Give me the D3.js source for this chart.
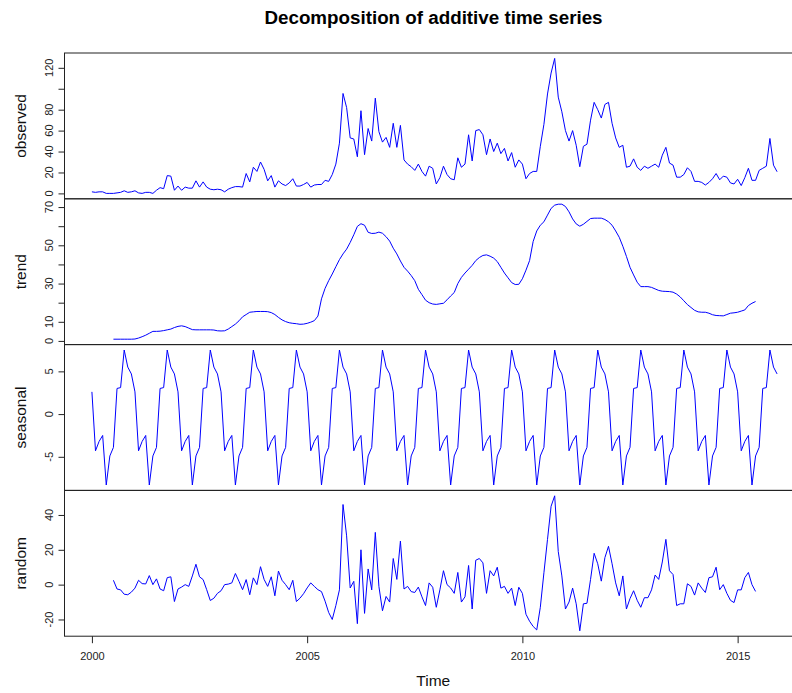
<!DOCTYPE html>
<html>
<head>
<meta charset="utf-8">
<script src="https://cdn.jsdelivr.net/npm/d3@7"></script>
<style>
  body { margin: 0; background: #fff; }
  svg { display: block; font-family: Arial, "Liberation Sans", "DejaVu Sans", sans-serif; }
</style>
</head>
<body>
<svg id="chart" width="792" height="693"></svg>
<script>
// Monthly series, January 2000 to December 2015
const startYear = 2000;
const frequency = 12;

const observed = [
  1.5, 1, 1.5, 1.5, 0, 0, 0, 0.5, 1, 2.5, 1, 1.5,
  2.5, 0.5, 0, 1, 1, 0, 3, 5.5, 4.5, 17, 16.5, 3,
  7, 3, 6, 5, 5, 12, 6, 11, 6, 4, 3.5, 4,
  3.5, 1.5, 4, 5.5, 6.5, 6.5, 6, 19, 11, 25, 21, 30,
  23, 12, 17, 6, 12, 9, 7.5, 10, 14, 7, 7, 8.5,
  10.5, 6, 8, 8.5, 8.5, 12.5, 11.5, 18, 28, 48, 95.5, 82,
  53, 52, 35, 79, 37, 62, 50, 91, 59, 49, 53.5, 44,
  67, 44, 65, 32, 28, 25.5, 22, 28, 21, 16.5, 26, 24,
  9, 15, 26, 18, 14, 13, 34, 25, 28, 56, 31, 60,
  61, 56, 37, 52, 40, 48, 38, 43, 31, 39, 25, 32,
  28, 14, 19, 21, 21, 45, 66, 95, 115, 129, 92, 78,
  60, 50, 60, 46, 25.5, 45, 47, 70, 87, 80, 72, 85,
  87, 67, 53, 44, 46, 25, 26, 33, 25, 22, 26, 24,
  26, 28, 25, 36.5, 44, 29, 27, 15.5, 15.5, 18, 24.5, 21,
  11.5, 11.5, 10.5, 8, 10.5, 14, 19, 13, 16.5, 15.5, 10, 9,
  13.5, 7.5, 15, 24, 12.5, 12.5, 22, 24, 26, 52.5, 27, 20.7
];

// Centred 12-month trend: defined from July 2000 to June 2015
const trendStart = 6;
const trend = [
  0.9, 0.9, 0.9, 0.9, 0.9, 0.9,
  1.0, 1.5, 2.2, 3.0, 4.0, 5.0, 5.0, 5.1, 5.4, 5.8, 6.2, 7.0,
  7.6, 7.9, 7.5, 6.7, 5.9, 5.8, 5.8, 5.8, 5.8, 5.8, 5.7, 5.3,
  5.2, 5.3, 6.2, 7.5, 8.8, 10.5, 12.6, 13.8, 15.0, 15.2, 15.4, 15.4,
  15.4, 15.3, 14.8, 13.8, 12.3, 11.0, 10.1, 9.5, 9.2, 9.0, 8.7, 8.8,
  9.2, 9.8, 10.6, 13.0, 22.0, 27.5, 31.5, 35.0, 38.8, 42.5, 45.5, 48.0,
  51.5, 55.5, 59.9, 61.3, 60.5, 56.8, 56.2, 56.3, 56.9, 56.3, 54.5, 52.2,
  48.5, 45.5, 41.8, 38.5, 36.5, 34.2, 31.5, 27.0, 24.2, 21.3, 20.0, 19.3,
  19.1, 19.4, 19.7, 21.5, 23.5, 25.3, 30.0, 33.2, 35.5, 37.5, 39.5, 42.0,
  43.6, 44.7, 45.0, 44.3, 43.3, 41.5, 38.5, 35.5, 33.0, 30.5, 29.5, 29.6,
  32.5, 37.0, 42.0, 52.0, 57.5, 60.5, 62.3, 65.8, 69.3, 71.0, 71.5, 71.5,
  70.3, 67.5, 63.8, 61.2, 60.0, 61.0, 62.5, 64.0, 64.2, 64.2, 64.2, 63.5,
  62.3, 60.5, 57.5, 54.2, 49.5, 44.2, 38.5, 34.5, 30.7, 28.4, 28.4, 28.4,
  28.0, 27.2, 26.4, 26.0, 25.9, 25.8, 25.5, 24.5, 23.0, 21.0, 19.0, 17.5,
  16.0, 15.2, 15.0, 15.0, 14.5, 13.7, 13.3, 13.2, 13.1, 13.8, 14.5, 14.7,
  15.0, 15.6, 16.2, 18.5, 19.7, 20.6
];

// Seasonal figure, January to December (repeats every year)
const seasonalFigure = [2.6, -4.3, -3.2, -2.5, -8.3, -4.9, -3.9, 3.0, 3.1, 7.5, 5.5, 4.7];

// Remainder: same months as the trend
const random = [
  2.5, -2.5, -3, -5.5, -5.8, -4.3,
  -2, 2.5, 0.6, 0.4, 5.2, 0, 3.3, -2.5, -3.5, 4, 4.5, -9.7,
  -2.5, -1.4, 0, -1, 5, 11.7, 4.5, 2.9, -2.9, -9.1, -7.8, -5,
  -3.5, 0, 0.3, 1, 6.4, 1.9, -2.9, 2.9, -5.8, 3.9, 0, 10.3,
  3, -1, 4.5, -6.4, 7.8, 2.5, 0, -2.9, 2.5, -9.7, -7.8, -5.2,
  -1.9, 1, -1, -2.9, -4, -9.5, -16, -20, -12, -3, 46, 28,
  -1.9, 1.9, -22.4, 20, -16.5, 9, -3, 30, -1, -15, -6.8, -10,
  15, 3, 25, -2.5, -1, -4, -4.5, -1.4, -7, -12, 1, -1.5,
  -13, -3, 8, 0, -1.9, -5, 7, -10, -7, 11, -14, 14,
  15, 12.5, -5, 8, 5, 10, -2, -1, -5, -2, -12, -1.5,
  -5, -17, -21, -24, -26, -13, 6.8, 26, 45, 51, 19, 5,
  -14, -10, -2, -11, -26.5, -11, -10.7, 3, 18, 12, 2, 15.5,
  22, 12, 1, -6.4, 5, -14, -8, -3.5, -9, -13, -7.5, -7.5,
  -3, 5.5, 3, 13, 26, 8, 5.8, -12, -11, -11, 0.5, -1,
  -6, 1, -2, -4.5, 4, 4.5, 10, -2.9, 0, -5, -9, -10.3,
  -3, -3, 4, 7, 0, -3.9
];

// Axis ticks (all drawn) and the subset that carries a label
const observedTicks = [0, 20, 40, 60, 80, 100, 120];
const observedLabels = [0, 20, 40, 60, 80, 120];
const trendTicks = [0, 10, 20, 30, 40, 50, 60, 70];
const trendLabels = [0, 10, 30, 50, 70];
const seasonalTicks = [-5, 0, 5];
const seasonalLabels = [-5, 0, 5];
const randomTicks = [-20, 0, 20, 40];
const randomLabels = [-20, 0, 20, 40];
const timeTicks = [2000, 2005, 2010, 2015];

const chartTitle = "Decomposition of additive time series";
const xTitle = "Time";

// ---- build time-indexed points ----
const toTime = i => startYear + i / frequency;
const observedPts = observed.map((v, i) => ({ t: toTime(i), v }));
const trendPts = trend.map((v, k) => ({ t: toTime(k + trendStart), v }));
const seasonalPts = observed.map((_, i) => ({ t: toTime(i), v: seasonalFigure[i % frequency] }));
const randomPts = random.map((v, k) => ({ t: toTime(k + trendStart), v }));

const panels = [
  { name: "observed", pts: observedPts, ticks: observedTicks, labels: observedLabels },
  { name: "trend", pts: trendPts, ticks: trendTicks, labels: trendLabels },
  { name: "seasonal", pts: seasonalPts, ticks: seasonalTicks, labels: seasonalLabels },
  { name: "random", pts: randomPts, ticks: randomTicks, labels: randomLabels }
];

// ---- layout ----
const plotLeft = 64.5, plotRight = 804.5;
const plotTop = 53, panelH = 145.8;

const svg = d3.select("#chart");

// padded extent, 4% on each side
function padded(ext) {
  const r = ext[1] - ext[0];
  return [ext[0] - 0.04 * r, ext[1] + 0.04 * r];
}

const tExtent = d3.extent(observedPts, d => d.t);
const x = d3.scaleLinear().domain(padded(tExtent)).range([plotLeft, plotRight]);

svg.append("text")
  .attr("x", 433.5).attr("y", 24)
  .attr("text-anchor", "middle")
  .attr("font-size", 18.8).attr("font-weight", "bold").attr("fill", "#000")
  .text(chartTitle);

panels.forEach((p, idx) => {
  const top = plotTop + idx * panelH;
  const bottom = top + panelH;
  const y = d3.scaleLinear().domain(padded(d3.extent(p.pts, d => d.v))).range([bottom, top]);

  const g = svg.append("g");

  // series line
  g.append("path")
    .datum(p.pts)
    .attr("fill", "none")
    .attr("stroke", "#0000ff")
    .attr("stroke-width", 1)
    .attr("stroke-linejoin", "round")
    .attr("d", d3.line().x(d => x(d.t)).y(d => y(d.v)));

  // left axis ticks
  const ax = g.append("g")
    .attr("transform", `translate(${plotLeft},0)`)
    .call(d3.axisLeft(y).tickValues(p.ticks).tickSize(6).tickSizeOuter(0).tickFormat(""));
  ax.select(".domain").remove();
  ax.selectAll(".tick line").attr("stroke", "#222");

  // rotated tick labels
  g.selectAll(".ylab")
    .data(p.labels)
    .join("text")
    .attr("class", "ylab")
    .attr("transform", d => `translate(52.5,${y(d)}) rotate(-90)`)
    .attr("text-anchor", "middle")
    .attr("font-size", 11).attr("fill", "#222")
    .text(d => d);

  // panel title on the left
  g.append("text")
    .attr("transform", `translate(25.5,${(top + bottom) / 2}) rotate(-90)`)
    .attr("text-anchor", "middle")
    .attr("font-size", 15.5).attr("fill", "#111")
    .text(p.name);

  // panel frame
  g.append("rect")
    .attr("x", plotLeft).attr("y", top)
    .attr("width", plotRight - plotLeft).attr("height", panelH)
    .attr("fill", "none").attr("stroke", "#222").attr("stroke-width", 1);
});

// bottom time axis
const axisY = plotTop + panels.length * panelH;
const xa = svg.append("g")
  .attr("transform", `translate(0,${axisY})`)
  .call(d3.axisBottom(x).tickValues(timeTicks).tickSize(7).tickSizeOuter(0).tickFormat(d3.format("d")));
xa.select(".domain").remove();
xa.selectAll(".tick line").attr("stroke", "#222");
xa.selectAll(".tick text")
  .attr("y", 24).attr("dy", null)
  .attr("font-size", 11).attr("fill", "#222")
  .attr("font-family", "Arial, 'Liberation Sans', sans-serif");

svg.append("text")
  .attr("x", 433.3).attr("y", 686)
  .attr("text-anchor", "middle")
  .attr("font-size", 15.5).attr("fill", "#111")
  .text(xTitle);
</script>
</body>
</html>
